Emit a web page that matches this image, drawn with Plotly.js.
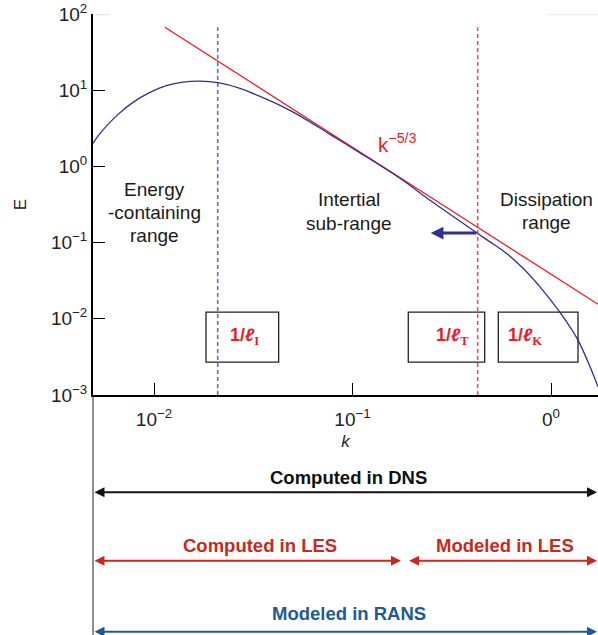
<!DOCTYPE html>
<html><head><meta charset="utf-8">
<script src="https://cdn.plot.ly/plotly-3.0.1.min.js"></script>
<style>html,body{margin:0;padding:0;background:#fff;}#chart{width:598px;height:635px;}</style>
</head><body><div id="chart"></div>
<script>
// Energy spectrum E(k)
const kSpectrum = [0.004929, 0.005346, 0.006510, 0.007834, 0.009546, 0.01163, 0.01400, 0.01705, 0.02101, 0.02712, 0.03420, 0.04313, 0.05438, 0.07702, 0.1091, 0.1735, 0.2457, 0.3284, 0.4272, 0.4929, 0.5980, 0.7253, 0.8804, 1.110, 1.368, 1.573, 1.725];
const ESpectrum = [2.008, 2.716, 4.674, 6.921, 9.359, 11.56, 12.77, 13.16, 12.54, 10.56, 8.293, 6.322, 4.605, 2.634, 1.507, 0.6982, 0.3594, 0.2120, 0.1316, 0.1021, 0.07196, 0.04576, 0.02627, 0.01213, 0.005257, 0.002349, 0.001285];
// k^-5/3 reference line (end points)
const kSlope = [0.01135, 1.726];
const ESlope = [67.1, 0.01549];
// characteristic wavenumbers 1/l_I and 1/l_T (dashed lines)
const kScaleI = [0.02094, 0.02094];
const kScaleT = [0.4272, 0.4272];
const EScaleLine = [0.001, 67.1];
// tick labels
const xTickVals = [0.01, 0.1, 1];
const xTickText = ["10<sup>−2</sup>", "10<sup>−1</sup>", "0<sup>0</sup>"];
const yTickVals = [0.001, 0.01, 0.1, 1, 10, 100];
const yTickText = ["10<sup>−3</sup>", "10<sup>−2</sup>", "10<sup>−1</sup>", "10<sup>0</sup>", "10<sup>1</sup>", "10<sup>2</sup>"];

const FONT = "Liberation Sans, Arial, Helvetica, sans-serif";
const BLUE = "#2e3192", RED = "#ed1c24";
const LESRED = "#c9281c", RANSBLUE = "#1f5a98";

const traces = [
  {x: kScaleI, y: EScaleLine, mode: "lines", line: {color: "#6b6bbd", width: 1.6, dash: "4px,3px"}},
  {x: kScaleT, y: EScaleLine, mode: "lines", line: {color: "#ef5060", width: 1.6, dash: "4px,3px"}},
  {x: kSlope, y: ESlope, mode: "lines", line: {color: RED, width: 1.3}},
  {x: kSpectrum, y: ESpectrum, mode: "lines", line: {color: BLUE, width: 1.3, shape: "spline", smoothing: 0.8}}
];

function txt(text, x, y, opts) {
  return Object.assign({text: text, x: x, y: y, xref: "x", yref: "y", showarrow: false,
    xanchor: "center", yanchor: "middle",
    font: {family: FONT, size: 19, color: "#1a1a1a"}}, opts || {});
}
function ptxt(text, x, y, color) {
  return {text: "<b>" + text + "</b>", x: x, y: y, xref: "paper", yref: "paper", showarrow: false,
    xanchor: "center", yanchor: "middle", font: {family: FONT, size: 18.5, color: color}};
}
function dblArrow(tipX, tailPx, y, color) {
  return {text: "", x: tipX, y: y, xref: "paper", yref: "paper", axref: "pixel", ayref: "pixel",
    ax: tailPx, ay: 0, showarrow: true, arrowside: "end+start", arrowhead: 2, startarrowhead: 2,
    arrowsize: 1, startarrowsize: 1, arrowwidth: 2, arrowcolor: color, standoff: 0, startstandoff: 0};
}
const boxFont = {family: FONT, size: 18, color: RED};
function scaleLabel(sub) {
  return "<b>1/<i>ℓ</i><sub><span style=\"font-family:Liberation Serif, Times New Roman, serif\">" + sub + "</span></sub></b>";
}

const annotations = [
  txt("Energy", -2.0, -0.306), txt("-containing", -2.0, -0.608), txt("range", -2.0, -0.903),
  txt("Intertial", -1.0176, -0.437), txt("sub-range", -1.0176, -0.743),
  txt("Dissipation", -0.0237, -0.437), txt("range", -0.0237, -0.739),
  txt("k<sup>−5/3</sup>", -0.771, 0.311, {font: {family: FONT, size: 20.5, color: RED}}),
  txt(scaleLabel("I"), -1.5466, -2.235, {font: boxFont}),
  txt(scaleLabel("T"), -0.4987, -2.235, {font: boxFont}),
  txt(scaleLabel("K"), -0.131, -2.235, {font: boxFont}),
  {text: "", x: -0.606, y: -0.874, xref: "x", yref: "y", axref: "x", ayref: "y", ax: -0.3693, ay: -0.874,
   showarrow: true, arrowhead: 2, arrowsize: 0.85, arrowwidth: 3, arrowcolor: BLUE, standoff: 0, startstandoff: 0},
  // bottom range bars
  ptxt("Computed in DNS", 0.505, -0.2165, "#111"),
  dblArrow(1, -505, -0.2554, "#111"),
  ptxt("Computed in LES", 0.3301, -0.395, LESRED),
  ptxt("Modeled in LES", 0.8154, -0.395, LESRED),
  dblArrow(0.6099, -308, -0.4349, LESRED),
  dblArrow(1, -190.4, -0.4349, LESRED),
  ptxt("Modeled in RANS", 0.507, -0.5748, RANSBLUE),
  dblArrow(1, -505, -0.6213, RANSBLUE)
];

const boxLine = {color: "#222", width: 1.3};
const shapes = [
  {type: "rect", xref: "x", yref: "y", x0: 0.01828, x1: 0.04246, y0: 0.002693, y1: 0.01227, line: boxLine, fillcolor: "rgba(0,0,0,0)"},
  {type: "rect", xref: "x", yref: "y", x0: 0.1910, x1: 0.4634, y0: 0.002693, y1: 0.01227, line: boxLine, fillcolor: "rgba(0,0,0,0)"},
  {type: "rect", xref: "x", yref: "y", x0: 0.5427, x1: 1.368, y0: 0.002693, y1: 0.01227, line: boxLine, fillcolor: "rgba(0,0,0,0)"},
  {type: "line", xref: "paper", yref: "paper", x0: 0, x1: 0, y0: 0, y1: -0.63, line: {color: "#222", width: 1}},
  {type: "line", xref: "paper", yref: "paper", x0: 0.004, x1: 0.034, y0: 0.998, y1: 0.998, line: {color: "#e2e2e2", width: 1}},
  {type: "line", xref: "paper", yref: "paper", x0: 0.899, x1: 1, y0: 0.998, y1: 0.998, line: {color: "#e8e8e8", width: 1}}
];

const axisCommon = {
  type: "log", showline: true, linecolor: "#000", linewidth: 2, ticks: "inside", ticklen: 12,
  tickwidth: 1, tickcolor: "#000", showgrid: false, zeroline: false, tickmode: "array",
  tickfont: {family: FONT, size: 19, color: "#222"}
};

const layout = {
  width: 598, height: 635,
  margin: {l: 93, r: 0, t: 14, b: 240},
  paper_bgcolor: "#fff", plot_bgcolor: "#fff",
  showlegend: false, hovermode: false,
  xaxis: Object.assign({}, axisCommon, {range: [-2.3073, 0.2368], tickvals: xTickVals, ticktext: xTickText,
    ticklabelstandoff: 6,
    title: {text: "<i>k</i>", font: {family: FONT, size: 17, color: "#222"}, standoff: 6}}),
  yaxis: Object.assign({}, axisCommon, {range: [-3, 2], tickvals: yTickVals, ticktext: yTickText,
    title: {text: "E", font: {family: FONT, size: 17, color: "#222"}, standoff: 20}}),
  annotations: annotations,
  shapes: shapes
};

Plotly.newPlot("chart", traces, layout, {staticPlot: true, displayModeBar: false});
</script>
</body></html>
